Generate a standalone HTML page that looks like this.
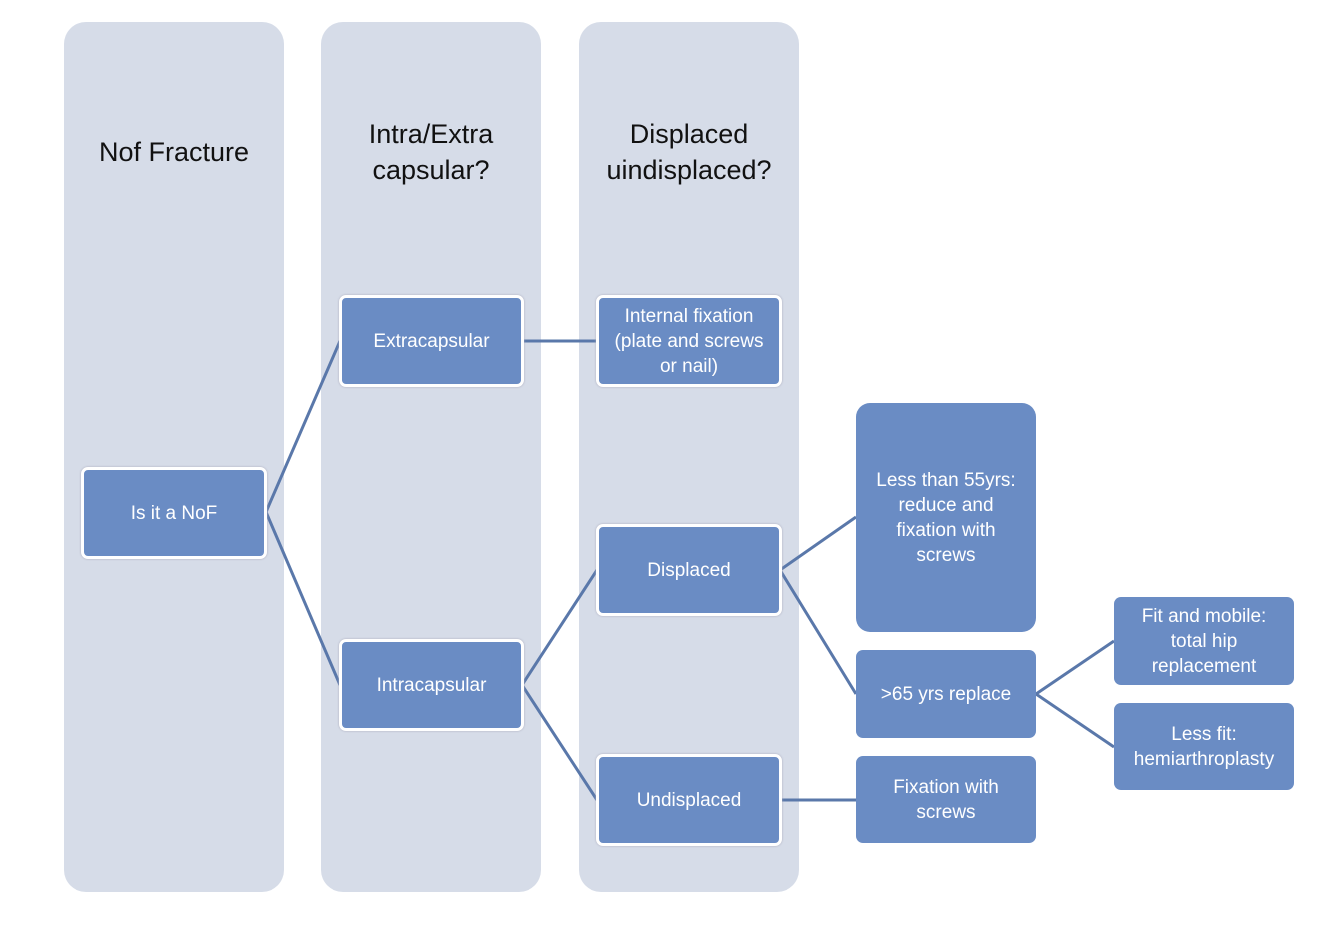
<!DOCTYPE html>
<html><head><meta charset="utf-8"><style>
body{margin:0;width:1334px;height:947px;background:#fff;position:relative;overflow:hidden;font-family:"Liberation Sans",sans-serif}
.col{position:absolute;top:22px;height:870px;width:220px;background:#d6dce8;border-radius:22px}
.t{position:absolute;width:220px;text-align:center;color:#111;font-size:27px;line-height:36px}
.b{position:absolute;background:#6a8cc4;color:#fff;display:flex;align-items:center;justify-content:center;text-align:center;font-size:19px;line-height:25px;border-radius:7px;box-sizing:border-box}
.w{border:3px solid #fff;box-shadow:0 0 2px #aab}
svg{position:absolute;left:0;top:0}
</style></head><body>
<div class="col" style="left:64px"></div>
<div class="col" style="left:321px"></div>
<div class="col" style="left:579px"></div>
<div class="t" style="left:64px;top:134px">Nof Fracture</div>
<div class="t" style="left:321px;top:116px">Intra/Extra<br>capsular?</div>
<div class="t" style="left:579px;top:116px">Displaced<br>uindisplaced?</div>
<svg width="1334" height="947"><g stroke="#5a78aa" stroke-width="3" fill="none">
<polyline points="340,341 266,512 340,685"/>
<line x1="522" y1="341" x2="597" y2="341"/>
<polyline points="597,570 522,685 597,800"/>
<polyline points="856,517 780,570 856,694"/>
<line x1="780" y1="800" x2="856" y2="800"/>
<polyline points="1114,641 1036,694 1114,747"/>
</g></svg>
<div class="b w" style="left:81px;top:467px;width:186px;height:92px">Is it a NoF</div>
<div class="b w" style="left:339px;top:295px;width:185px;height:92px">Extracapsular</div>
<div class="b w" style="left:339px;top:639px;width:185px;height:92px">Intracapsular</div>
<div class="b w" style="left:596px;top:295px;width:186px;height:92px">Internal fixation<br>(plate and screws<br>or nail)</div>
<div class="b w" style="left:596px;top:524px;width:186px;height:92px">Displaced</div>
<div class="b w" style="left:596px;top:754px;width:186px;height:92px">Undisplaced</div>
<div class="b" style="left:856px;top:403px;width:180px;height:229px;border-radius:14px">Less than 55yrs:<br>reduce and<br>fixation with<br>screws</div>
<div class="b" style="left:856px;top:650px;width:180px;height:88px">&gt;65 yrs replace</div>
<div class="b" style="left:856px;top:756px;width:180px;height:87px">Fixation with<br>screws</div>
<div class="b" style="left:1114px;top:597px;width:180px;height:88px">Fit and mobile:<br>total hip<br>replacement</div>
<div class="b" style="left:1114px;top:703px;width:180px;height:87px">Less fit:<br>hemiarthroplasty</div>
</body></html>
